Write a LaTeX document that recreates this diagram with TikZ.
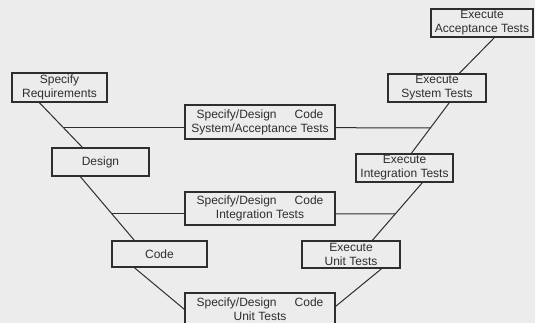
\documentclass[tikz,border=0pt]{standalone}
\usepackage{fontspec}
\setmainfont{Liberation Sans}
\usetikzlibrary{calc}
\definecolor{bg}{HTML}{ECECEC}
\definecolor{ink}{HTML}{2E2E2E}
\begin{document}
\begin{tikzpicture}[x=1pt,y=-1pt,
  box/.style={draw=ink, line width=1.3pt, text=ink, align=center, inner sep=0pt,
    font=\fontsize{12}{14}\selectfont},
  conn/.style={draw=ink, line width=1pt}]
\useasboundingbox (0,0) rectangle (535,323);
\fill[bg] (0,0) rectangle (535,323);
\clip (0,0) rectangle (535,323);
% left leg
\node[box, minimum width=95pt, minimum height=29pt] (SR) at (59.5,87.5) {Specify\\Requirements};
\node[box, minimum width=97pt, minimum height=28pt] (D) at (100.5,162) {Design};
\node[box, minimum width=95pt, minimum height=26pt] (C) at (159.5,254) {Code};
% middle
\node[box, minimum width=150pt, minimum height=34pt] (SA) at (260,122) {Specify/Design\hspace{18pt}Code\\System/Acceptance Tests};
\node[box, minimum width=150pt, minimum height=33pt] (IT) at (260,208.5) {Specify/Design\hspace{18pt}Code\\Integration Tests};
\node[box, minimum width=150pt, minimum height=32pt] (U) at (260,309) {Specify/Design\hspace{18pt}Code\\Unit Tests};
% right leg
\node[box, minimum width=98pt, minimum height=27pt] (EU) at (351,254.5) {Execute\\Unit Tests};
\node[box, minimum width=97pt, minimum height=28pt] (EI) at (404.5,168) {Execute\\Integration Tests};
\node[box, minimum width=98pt, minimum height=28pt] (ES) at (437,88) {Execute\\System Tests};
\node[box, minimum width=102pt, minimum height=28pt] (EA) at (482,23) {Execute\\Acceptance Tests};
% V connectors
\coordinate (l1a) at ([xshift=28pt]SR.south west);
\coordinate (l1b) at ([xshift=31pt]D.north west);
\coordinate (l2a) at ([xshift=29pt]D.south west);
\coordinate (l2b) at ([xshift=23pt]C.north west);
\coordinate (l3a) at ([xshift=23pt]C.south west);
\coordinate (l3b) at ([yshift=-17pt]U.north west);
\coordinate (r1a) at ([yshift=-14pt]U.north east);
\coordinate (r1b) at ([xshift=-19pt]EU.south east);
\coordinate (r2a) at ([xshift=71pt]EU.north west);
\coordinate (r2b) at ([xshift=67pt]EI.south west);
\coordinate (r3a) at ([xshift=56pt]EI.north west);
\coordinate (r3b) at ([xshift=62pt]ES.south west);
\coordinate (r4a) at ([xshift=72pt]ES.north west);
\coordinate (r4b) at ([xshift=64pt]EA.south west);
\draw[conn] (l1a) -- (l1b);
\draw[conn] (l2a) -- (l2b);
\draw[conn] (l3a) -- (l3b);
\draw[conn] (r1a) -- (r1b);
\draw[conn] (r2a) -- (r2b);
\draw[conn] (r3a) -- (r3b);
\draw[conn] (r4a) -- (r4b);
% horizontal connectors
\coordinate (s1) at ($(l1a)!0.56!(l1b)$);
\coordinate (s2) at ($(r3a)!0.5!(r3b)$);
\draw[conn] (s1) -- (SA.west |- s1);
\draw[conn] (SA.east |- s1) -- (s2);
\coordinate (i1) at ($(l2a)!0.585!(l2b)$);
\coordinate (i2) at ($(r2a)!0.458!(r2b)$);
\draw[conn] (i1) -- (IT.west |- i1);
\draw[conn] (IT.east |- i1) -- (i2);
\end{tikzpicture}
\end{document}
